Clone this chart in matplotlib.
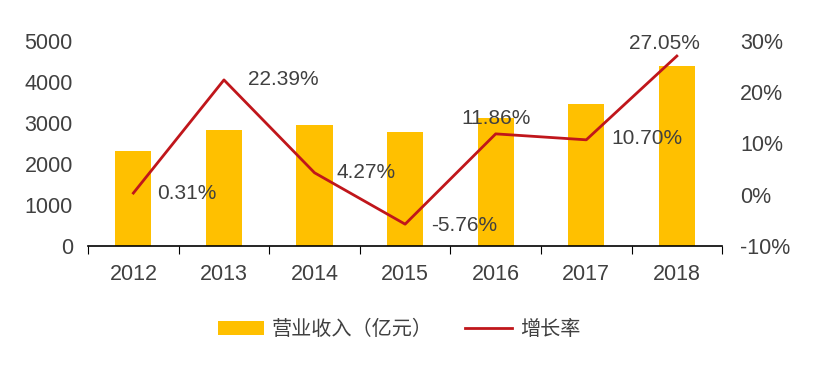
import matplotlib
matplotlib.use('Agg')
import matplotlib.pyplot as plt
from matplotlib.ticker import FuncFormatter
import numpy as np

plt.rcParams['font.family'] = ['Liberation Sans', 'Noto Sans CJK SC', 'DejaVu Sans']

# data
years = ['2012', '2013', '2014', '2015', '2016', '2017', '2018']
revenue = [2311, 2829, 2950, 2780, 3110, 3450, 4390]       # 营业收入（亿元）
growth = [0.31, 22.39, 4.27, -5.76, 11.86, 10.70, 27.05]  # 增长率 %
growth_labels = ['0.31%', '22.39%', '4.27%', '-5.76%', '11.86%', '10.70%', '27.05%']
# label anchor offsets in points (dx, dy, ha)
label_offsets = [(17, 0, 'left'), (17, 0, 'left'), (16, 0, 'left'), (19, -1, 'left'),
                 (0, 11, 'center'), (18, 1, 'left'), (-9, 9, 'center')]

bar_color = '#FFC000'
line_color = '#C0161B'
text_color = '#404040'
fs = 15.5

fig = plt.figure(figsize=(8.31, 3.72), dpi=100)
ax = fig.add_axes([0.106, 0.339, 0.763, 0.551])
ax2 = ax.twinx()

x = np.arange(len(years))
bars = ax.bar(x, revenue, width=0.4, color=bar_color, zorder=1)
line, = ax2.plot(x, growth, color=line_color, lw=2, zorder=3)

ax.set_xlim(-0.5, len(years) - 0.5)
ax.set_ylim(0, 5000)
ax.set_yticks(range(0, 5001, 1000))
ax2.set_ylim(-10, 30)
ax2.set_yticks(range(-10, 31, 10))
ax2.yaxis.set_major_formatter(FuncFormatter(lambda v, p: '%d%%' % v))

# category ticks at boundaries, labels centered
ax.set_xticks(np.arange(-0.5, len(years), 1))
ax.set_xticklabels([])
ax.set_xticks(x, minor=True)
ax.set_xticklabels(years, minor=True)
ax.tick_params(axis='x', which='major', length=6, direction='out', color='black')
ax.tick_params(axis='x', which='minor', length=0, labelsize=fs, colors=text_color, pad=13)
ax.tick_params(axis='y', length=0, labelsize=fs, colors=text_color, pad=11)
ax2.tick_params(axis='y', length=0, labelsize=fs, colors=text_color, pad=13)

for a in (ax, ax2):
    for s in ['left', 'right', 'top']:
        a.spines[s].set_visible(False)
ax2.spines['bottom'].set_visible(False)
ax.spines['bottom'].set_color('black')
ax.spines['bottom'].set_linewidth(1.2)

for i, lab in enumerate(growth_labels):
    dx, dy, ha = label_offsets[i]
    ax2.annotate(lab, (x[i], growth[i]), xytext=(dx, dy), textcoords='offset points',
                 ha=ha, va='center', fontsize=fs - 0.5, color=text_color, zorder=4)

fig.legend([bars, line], ['营业收入（亿元）', '增长率'], loc='center', bbox_to_anchor=(0.48, 0.113),
           ncol=2, frameon=False, handlelength=2.3, handletextpad=0.4, columnspacing=1.6,
           prop={'family': ['Noto Sans CJK SC'], 'size': 14.5})
for t in fig.legends[0].get_texts():
    t.set_color(text_color)

fig.savefig('out.png', dpi=100)
